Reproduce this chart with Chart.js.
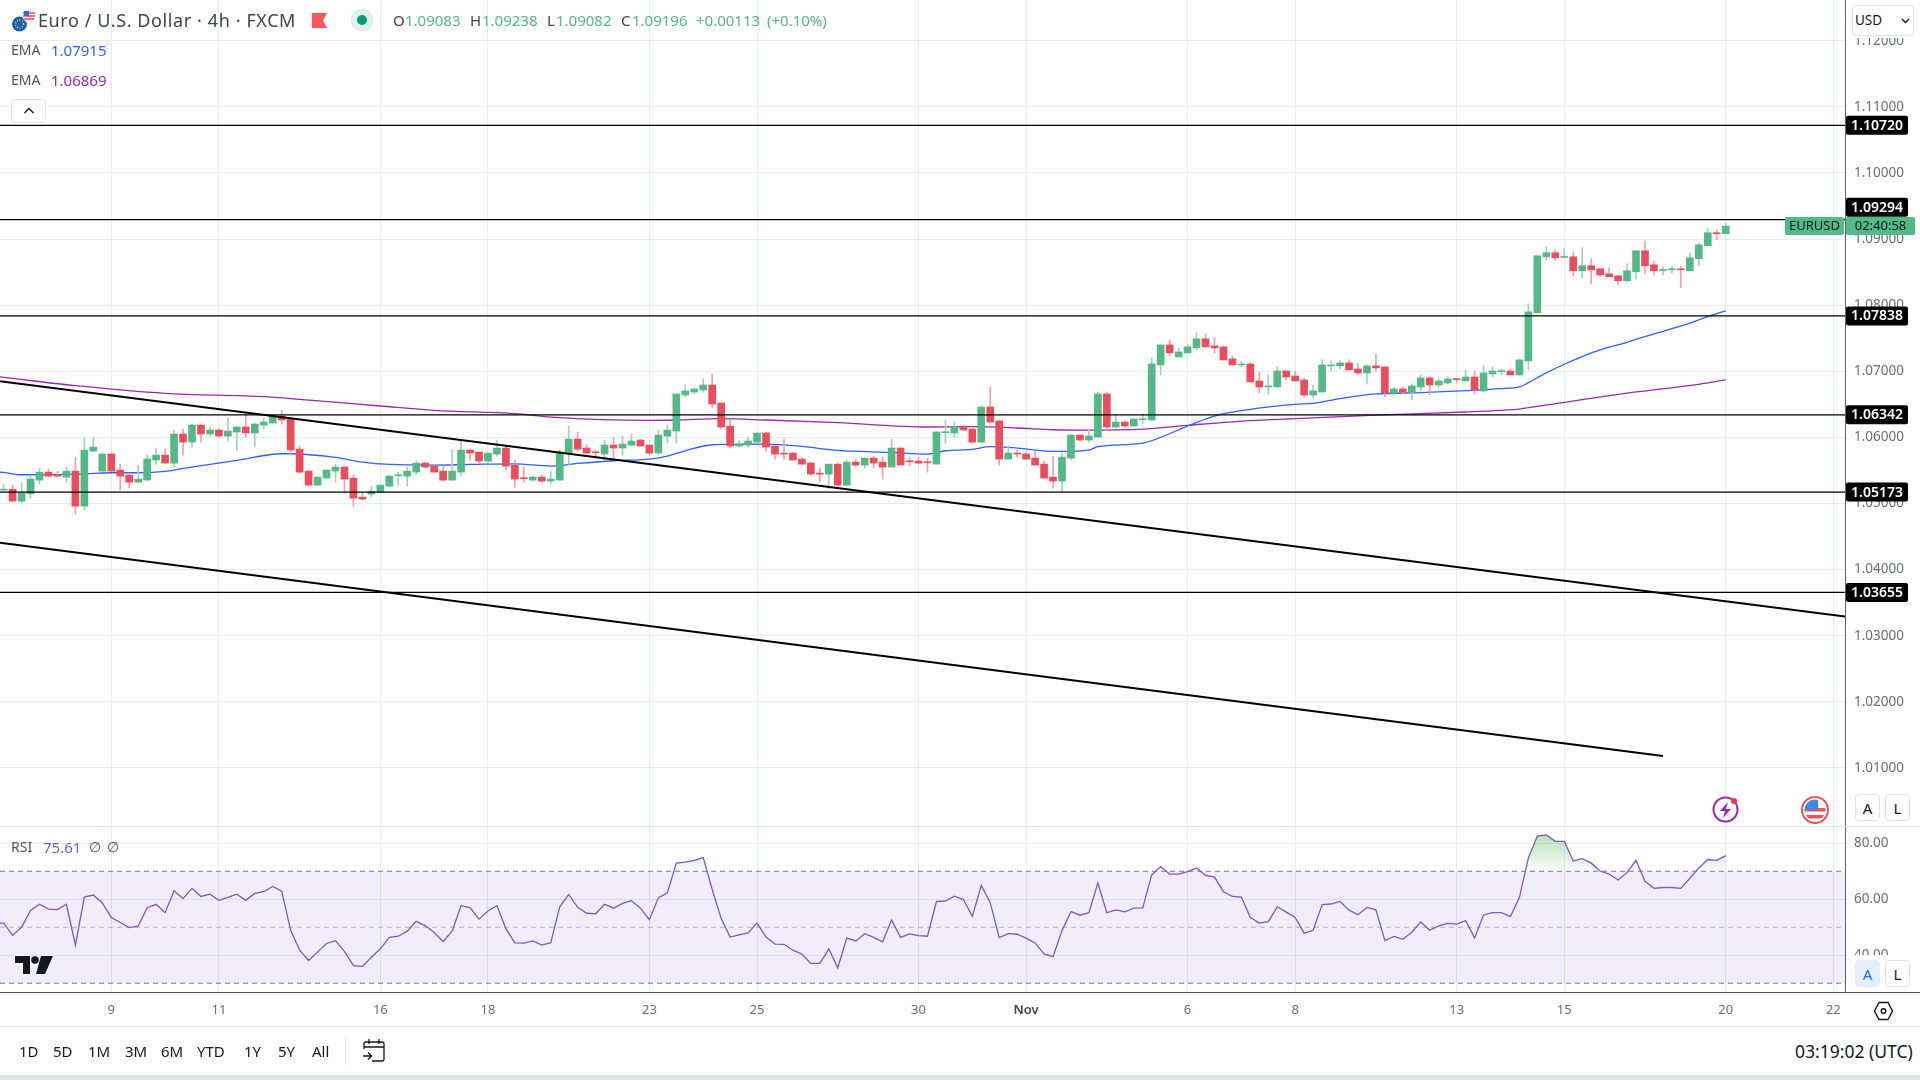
<!DOCTYPE html>
<html>
<head>
<meta charset="utf-8">
<title>EURUSD 4h</title>
<script src="https://cdn.jsdelivr.net/npm/chart.js@4/dist/chart.umd.min.js"></script>
<style>
  html, body { margin: 0; padding: 0; background: #fff; overflow: hidden; }
  body { width: 1920px; height: 1080px; position: relative; font-family: "Noto Sans", sans-serif; color: #131722; }
  canvas { position: absolute; left: 0; }
  #main { top: 0; }
  #rsi { top: 827px; }
  .t { position: absolute; white-space: nowrap; line-height: 20px; }
  .box { position: absolute; box-sizing: border-box; background: #fff; border: 1px solid #e0e3eb; border-radius: 4px; text-align: center; }
  .line { position: absolute; }
  svg { position: absolute; overflow: visible; }
  .gr { color: #53b987; }
  .range span { position: absolute; top: 0; line-height: 20px; font-size: 15px; }
</style>
</head>
<body>
<canvas id="main" width="1920" height="827"></canvas>
<canvas id="rsi" width="1920" height="199"></canvas>

<!-- header legend -->
<svg style="left:11px;top:8px" width="28" height="26" viewBox="0 0 28 26">
  <circle cx="8.5" cy="16" r="7.5" fill="#1c5fb0"/>
  <circle cx="8.5" cy="16" r="4" fill="none" stroke="#f5d33f" stroke-width="1.4" stroke-dasharray="1 1.6"/>
  <circle cx="18" cy="8" r="6.5" fill="#e8eef5"/>
  <path d="M12 5h12M12 8h12M13 11h10" stroke="#eb4d5c" stroke-width="1.3"/>
  <rect x="13" y="3" width="5" height="5" fill="#2f6fc4"/>
</svg>
<div class="t" style="left:38px;top:10px;font-size:18px;letter-spacing:0.6px;color:#42454f">Euro / U.S. Dollar · 4h · FXCM</div>
<svg style="left:312px;top:13px" width="16" height="15"><path d="M0 0H15L11 7.5 15 15H0Z" fill="#f9575c"/></svg>
<svg style="left:350px;top:8px" width="24" height="24"><circle cx="12" cy="12" r="11.5" fill="#e0f1ec"/><circle cx="12" cy="12" r="5" fill="#089981"/></svg>
<div class="t" style="left:393px;top:10px;font-size:15px;color:#42454f">O</div>
<div class="t gr" style="left:405px;top:10px;font-size:15px">1.09083</div>
<div class="t" style="left:470px;top:10px;font-size:15px;color:#42454f">H</div>
<div class="t gr" style="left:482px;top:10px;font-size:15px">1.09238</div>
<div class="t" style="left:547px;top:10px;font-size:15px;color:#42454f">L</div>
<div class="t gr" style="left:556px;top:10px;font-size:15px">1.09082</div>
<div class="t" style="left:621px;top:10px;font-size:15px;color:#42454f">C</div>
<div class="t gr" style="left:632px;top:10px;font-size:15px">1.09196</div>
<div class="t gr" style="left:696px;top:10px;font-size:15px">+0.00113</div>
<div class="t gr" style="left:767px;top:10px;font-size:15px">(+0.10%)</div>
<div class="t" style="left:11px;top:40px;font-size:14px;color:#50535e">EMA</div>
<div class="t" style="left:51px;top:40px;font-size:15px;color:#2962ff">1.07915</div>
<div class="t" style="left:11px;top:70px;font-size:14px;color:#50535e">EMA</div>
<div class="t" style="left:51px;top:70px;font-size:15px;color:#9c27b0">1.06869</div>
<div class="box" style="left:11px;top:99px;width:35px;height:24px"></div>
<svg style="left:23px;top:107px" width="12" height="8"><path d="M1.5 6L6 1.5 10.500 6" fill="none" stroke="#131722" stroke-width="1.4"/></svg>

<!-- price axis extras -->
<div class="line" style="left:1846px;top:0;width:74px;height:38px;background:#fff"></div>
<div class="box" style="left:1852px;top:5px;width:62px;height:31px"></div>
<div class="t" style="left:1855px;top:10px;font-size:13.5px">USD</div>
<svg style="left:1901px;top:18px" width="9" height="6"><path d="M1 1L4.500 4.500 8 1" fill="none" stroke="#131722" stroke-width="1.4"/></svg>
<div class="box" style="left:1855px;top:794px;width:25px;height:27px;line-height:27px;font-size:15px">A</div>
<div class="box" style="left:1885px;top:794px;width:25px;height:27px;line-height:27px;font-size:15px">L</div>

<!-- event icons -->
<svg style="left:1712px;top:796px" width="28" height="28">
  <circle cx="13.500" cy="13.500" r="12" fill="#fff" stroke="#9c27b0" stroke-width="2"/>
  <path d="M16 6L8 15h5l-2 7 8-9h-5z" fill="#9c27b0"/>
  <circle cx="22" cy="5" r="3" fill="#f23645"/>
</svg>
<svg style="left:1801px;top:796px" width="28" height="28">
  <circle cx="14" cy="14" r="13" fill="#fff" stroke="#f0525f" stroke-width="2"/>
  <clipPath id="us"><circle cx="14" cy="14" r="10.500"/></clipPath>
  <g clip-path="url(#us)"><rect x="3" y="3" width="22" height="22" fill="#f5f5f5"/>
    <rect x="3" y="12" width="22" height="3.500" fill="#f0525f"/><rect x="3" y="19" width="22" height="3.500" fill="#f0525f"/>
    <rect x="3" y="3" width="14" height="11" fill="#3f8ae8"/></g>
</svg>

<!-- separators -->
<div class="line" style="left:0;top:826px;width:1920px;height:1px;background:#e0e3eb"></div>
<div class="line" style="left:0;top:1026px;width:1920px;height:1px;background:#e0e3eb"></div>
<div class="line" style="left:0;top:1075px;width:1920px;height:5px;background:#e0e3eb"></div>

<!-- RSI pane legend -->
<div class="t" style="left:11px;top:837px;font-size:14px;color:#50535e">RSI</div>
<div class="t" style="left:43px;top:837px;font-size:15px;color:#7e57c2">75.61</div>
<div class="t" style="left:89px;top:837px;font-size:14px;color:#50535e;font-family:'DejaVu Sans'">∅</div>
<div class="t" style="left:107px;top:837px;font-size:14px;color:#50535e;font-family:'DejaVu Sans'">∅</div>
<svg style="left:15px;top:956px" width="38" height="18" viewBox="0 0 38 18">
  <path d="M0 0H15V18H8V7H0Z M26 0H38L30 18H21Z" fill="#131722" stroke="#fff" stroke-width="1.5" paint-order="stroke"/>
  <circle cx="20" cy="4" r="3.800" fill="#131722"/>
</svg>
<div class="line" style="left:1846px;top:955px;width:74px;height:36px;background:#fff"></div>
<div class="box" style="left:1855px;top:960px;width:25px;height:27px;line-height:27px;font-size:15px;background:#e3effd;border-color:#e3effd;color:#2962ff">A</div>
<div class="box" style="left:1885px;top:960px;width:25px;height:27px;line-height:27px;font-size:15px">L</div>
<svg style="left:1874px;top:1001px" width="20" height="20"><path d="M5 1.500H14L18.500 10 14 18.500H5L0.500 10Z" fill="none" stroke="#131722" stroke-width="1.400"/><circle cx="9.500" cy="10" r="2.300" fill="none" stroke="#131722" stroke-width="1.400"/></svg>

<!-- bottom toolbar -->
<div class="range" style="position:absolute;left:0;top:1041px">
  <span style="left:19px">1D</span><span style="left:53px">5D</span><span style="left:88px">1M</span>
  <span style="left:125px">3M</span><span style="left:161px">6M</span><span style="left:197px">YTD</span>
  <span style="left:244px">1Y</span><span style="left:278px">5Y</span><span style="left:312px">All</span>
</div>
<div class="line" style="left:345px;top:1037px;width:1px;height:28px;background:#e0e3eb"></div>
<svg style="left:362px;top:1039px" width="24" height="23">
  <path d="M2 10V5a2 2 0 0 1 2-2H20a2 2 0 0 1 2 2V20a2 2 0 0 1-2 2H10M2 8H22M7 0V5M17 0V5M1 17H9M6 13.500L9.500 17 6 20.500" fill="none" stroke="#131722" stroke-width="1.300"/>
</svg>
<div class="t" style="left:1795px;top:1041px;font-size:17.5px">03:19:02 (UTC)</div>

<script>
// Candles, one value per 4h bar
const opens = [
  1.05202,1.05217,1.05036,1.05147,1.05354,1.05475,1.05429,1.05399,1.05490,1.04960,
  1.05793,1.05490,1.05748,1.05505,1.05429,1.05323,1.05354,1.05657,1.05732,1.05611,
  1.06051,1.05929,1.06187,1.06051,1.06111,1.06020,1.06081,1.06157,1.06066,1.06187,
  1.06217,1.06323,1.06278,1.05823,1.05490,1.05278,1.05384,1.05490,1.05551,1.05384,
  1.05096,1.05142,1.05172,1.05263,1.05419,1.05414,1.05475,1.05611,1.05566,1.05490,
  1.05354,1.05475,1.05808,1.05778,1.05642,1.05748,1.05839,1.05581,1.05384,1.05354,
  1.05399,1.05339,1.05354,1.05763,1.05975,1.05839,1.05778,1.05748,1.05884,1.05839,
  1.05884,1.05960,1.05884,1.05763,1.06020,1.06096,1.06641,1.06687,1.06717,1.06793,
  1.06520,1.06172,1.05869,1.05884,1.05929,1.06066,1.05869,1.05763,1.05763,1.05672,
  1.05611,1.05460,1.05445,1.05596,1.05278,1.05626,1.05581,1.05687,1.05626,1.05551,
  1.05839,1.05642,1.05642,1.05626,1.05596,1.06071,1.06066,1.06157,1.06126,1.05929,
  1.06460,1.06248,1.05672,1.05763,1.05748,1.05687,1.05596,1.05399,1.05339,1.05687,
  1.06035,1.05960,1.06005,1.06657,1.06157,1.06232,1.06172,1.06268,1.06263,1.07096,
  1.07399,1.07217,1.07278,1.07354,1.07490,1.07384,1.07369,1.07187,1.07096,1.07111,
  1.06854,1.06763,1.06763,1.07005,1.06929,1.06869,1.06641,1.06687,1.07081,1.07081,
  1.07126,1.07035,1.06975,1.07081,1.07066,1.06672,1.06732,1.06687,1.06763,1.06899,
  1.06793,1.06823,1.06884,1.06854,1.06914,1.06702,1.06960,1.06995,1.07005,1.06944,
  1.07157,1.07884,1.08732,1.08793,1.08722,1.08732,1.08520,1.08596,1.08550,1.08475,
  1.08444,1.08369,1.08505,1.08823,1.08611,1.08525,1.08535,1.08550,1.08520,1.08702,
  1.08899,1.09096,1.09083]
const highs = [
  1.05293,1.05278,1.05313,1.05414,1.05536,1.05520,1.05490,1.05551,1.05702,1.06000,
  1.06005,1.05763,1.05763,1.05596,1.05460,1.05581,1.05732,1.05839,1.05823,1.06111,
  1.06126,1.06202,1.06202,1.06157,1.06131,1.06293,1.06162,1.06354,1.06217,1.06293,
  1.06338,1.06414,1.06308,1.05869,1.05505,1.05399,1.05505,1.05596,1.05566,1.05429,
  1.05172,1.05263,1.05278,1.05429,1.05475,1.05551,1.05642,1.05626,1.05581,1.05566,
  1.05808,1.05960,1.05823,1.05778,1.05763,1.05960,1.05884,1.05657,1.05551,1.05414,
  1.05429,1.05490,1.05808,1.06172,1.06081,1.05884,1.05808,1.05960,1.06005,1.06020,
  1.06051,1.05975,1.05884,1.06111,1.06187,1.06657,1.06793,1.06748,1.06884,1.06960,
  1.06520,1.06263,1.05960,1.06005,1.06066,1.06081,1.05869,1.05975,1.05778,1.05702,
  1.05626,1.05536,1.05596,1.05611,1.05657,1.05672,1.05687,1.05717,1.05702,1.05975,
  1.05839,1.05702,1.05702,1.05687,1.06096,1.06263,1.06232,1.06187,1.06142,1.06475,
  1.06763,1.06263,1.05869,1.05823,1.05778,1.05793,1.05642,1.05717,1.05763,1.06035,
  1.06035,1.06111,1.06687,1.06687,1.06338,1.06248,1.06293,1.06354,1.07202,1.07399,
  1.07475,1.07354,1.07399,1.07581,1.07566,1.07505,1.07384,1.07232,1.07141,1.07126,
  1.06990,1.06944,1.07066,1.07005,1.07005,1.06899,1.06793,1.07172,1.07157,1.07157,
  1.07172,1.07111,1.07096,1.07263,1.07066,1.06763,1.06763,1.06808,1.06944,1.06914,
  1.06884,1.06914,1.06884,1.07020,1.07005,1.07081,1.07066,1.07035,1.07035,1.07187,
  1.08020,1.08747,1.08884,1.08838,1.08853,1.08808,1.08869,1.08702,1.08550,1.08566,
  1.08444,1.08626,1.08823,1.08975,1.08672,1.08581,1.08581,1.08596,1.08793,1.08944,
  1.09156,1.09141,1.09238]
const lows = [
  1.05202,1.05025,1.05010,1.05081,1.05293,1.05414,1.05399,1.05323,1.04839,1.04899,
  1.05783,1.05490,1.05490,1.05202,1.05232,1.05323,1.05354,1.05596,1.05611,1.05551,
  1.05732,1.05854,1.05929,1.06020,1.06020,1.05945,1.05808,1.06005,1.05854,1.06126,
  1.06217,1.06202,1.05732,1.05460,1.05263,1.05278,1.05384,1.05323,1.05157,1.04960,
  1.05051,1.05096,1.05172,1.05248,1.05278,1.05263,1.05445,1.05536,1.05475,1.05339,
  1.05354,1.05414,1.05657,1.05611,1.05626,1.05717,1.05505,1.05248,1.05323,1.05339,
  1.05323,1.05293,1.05354,1.05581,1.05793,1.05748,1.05702,1.05657,1.05657,1.05732,
  1.05869,1.05869,1.05732,1.05732,1.05914,1.05914,1.06611,1.06657,1.06687,1.06445,
  1.06126,1.05839,1.05854,1.05854,1.05929,1.05793,1.05672,1.05672,1.05657,1.05581,
  1.05429,1.05323,1.05222,1.05263,1.05278,1.05551,1.05536,1.05536,1.05369,1.05551,
  1.05581,1.05566,1.05596,1.05475,1.05596,1.05914,1.06005,1.06111,1.05914,1.05929,
  1.06217,1.05581,1.05672,1.05702,1.05672,1.05581,1.05384,1.05232,1.05172,1.05657,
  1.05945,1.05929,1.06005,1.06111,1.06142,1.06157,1.06172,1.06202,1.06248,1.06944,
  1.07232,1.07217,1.07278,1.07323,1.07369,1.07278,1.07172,1.07096,1.07066,1.06838,
  1.06672,1.06657,1.06763,1.06869,1.06854,1.06611,1.06596,1.06687,1.07005,1.07035,
  1.07020,1.06944,1.06808,1.07005,1.06611,1.06641,1.06672,1.06566,1.06702,1.06641,
  1.06748,1.06808,1.06823,1.06854,1.06657,1.06687,1.06914,1.06944,1.06944,1.06944,
  1.07020,1.07884,1.08687,1.08672,1.08717,1.08444,1.08414,1.08323,1.08429,1.08429,
  1.08308,1.08353,1.08399,1.08475,1.08459,1.08459,1.08490,1.08263,1.08520,1.08596,
  1.08899,1.08990,1.09082]
const closes = [
  1.05212,1.05036,1.05157,1.05369,1.05475,1.05414,1.05414,1.05490,1.04960,1.05808,
  1.05854,1.05748,1.05490,1.05414,1.05323,1.05369,1.05672,1.05732,1.05611,1.06051,
  1.05929,1.06187,1.06051,1.06111,1.06020,1.06096,1.06157,1.06066,1.06202,1.06232,
  1.06328,1.06263,1.05808,1.05475,1.05278,1.05399,1.05505,1.05551,1.05369,1.05081,
  1.05066,1.05187,1.05278,1.05414,1.05429,1.05490,1.05611,1.05551,1.05475,1.05354,
  1.05490,1.05808,1.05763,1.05642,1.05763,1.05839,1.05566,1.05369,1.05374,1.05399,
  1.05339,1.05369,1.05778,1.05975,1.05823,1.05763,1.05768,1.05884,1.05839,1.05899,
  1.05945,1.05869,1.05763,1.06035,1.06111,1.06657,1.06702,1.06732,1.06793,1.06505,
  1.06157,1.05869,1.05899,1.05945,1.06066,1.05854,1.05748,1.05748,1.05657,1.05596,
  1.05445,1.05445,1.05596,1.05278,1.05626,1.05581,1.05687,1.05611,1.05551,1.05839,
  1.05581,1.05631,1.05611,1.05616,1.06081,1.06081,1.06157,1.06111,1.05929,1.06460,
  1.06232,1.05672,1.05763,1.05748,1.05672,1.05581,1.05384,1.05339,1.05702,1.06035,
  1.05960,1.06020,1.06657,1.06157,1.06232,1.06172,1.06278,1.06278,1.07111,1.07399,
  1.07278,1.07293,1.07369,1.07490,1.07369,1.07354,1.07172,1.07096,1.07111,1.06838,
  1.06763,1.06778,1.07005,1.06914,1.06854,1.06641,1.06702,1.07096,1.07096,1.07126,
  1.07020,1.06975,1.07081,1.07051,1.06672,1.06732,1.06687,1.06778,1.06899,1.06793,
  1.06854,1.06884,1.06874,1.06914,1.06717,1.06975,1.07005,1.07005,1.06944,1.07172,
  1.07899,1.08747,1.08793,1.08717,1.08732,1.08520,1.08596,1.08535,1.08459,1.08429,
  1.08369,1.08520,1.08823,1.08596,1.08520,1.08535,1.08550,1.08535,1.08717,1.08914,
  1.09096,1.09081,1.09196]

// RSI, one value per bar, plus the bar just off the left edge
const rsiLeadIn = 51.5
const rsiValues = [
  51.5,47.1,50.0,56.0,58.2,56.5,56.3,58.2,43.6,60.8,61.5,58.7,53.5,51.7,49.9,50.4,57.0,58.2,55.2,63.0,
  60.2,63.9,61.0,61.8,59.6,60.7,61.8,59.6,62.1,62.7,64.6,62.9,48.9,41.8,38.1,41.1,44.2,45.2,41.4,36.3,
  36.0,39.3,42.3,46.4,46.8,48.6,52.1,50.6,48.1,44.9,48.6,57.7,57.0,52.9,55.8,57.7,49.5,44.4,44.3,45.1,
  43.6,44.5,57.3,61.7,57.1,55.0,54.8,58.2,56.8,58.5,59.5,56.8,52.7,60.5,62.3,72.9,73.3,73.9,74.9,63.5,
  53.1,46.5,47.3,48.0,51.5,46.5,44.0,43.9,41.8,40.4,37.1,37.1,42.3,35.5,46.1,45.1,47.7,46.4,44.8,52.6,
  46.4,47.6,47.0,46.8,59.2,59.3,61.1,59.9,53.9,64.9,58.8,46.3,47.7,47.5,46.1,44.4,40.5,39.5,48.8,55.6,
  54.3,55.2,65.8,55.2,56.2,55.5,56.8,56.9,68.7,71.7,69.0,69.0,69.9,71.2,68.5,67.9,62.7,61.0,60.8,53.5,
  51.5,52.0,57.3,55.4,53.5,47.9,48.9,58.1,58.3,59.2,56.1,54.5,57.1,56.2,45.2,46.7,45.7,48.2,51.9,48.9,
  50.5,51.4,51.1,52.4,46.2,54.4,55.2,55.2,53.8,60.7,74.8,82.6,83.0,80.7,80.7,73.7,74.5,72.9,70.1,69.0,
  66.9,69.5,73.9,66.4,63.9,64.2,64.2,63.9,67.5,71.2,74.2,73.9,75.61]

// EMAs, read at the bars where the curve bends
const emaFastBars = [-1,0,2,7,10,12,15,18,20,26,31,32,37,40,43,48,52,57,61,64,68,72,74,76,79,81,85,89,93,99,103,105,108,110,113,117,118,121,122,127,132,135,139,144,146,149,153,158,163,167,169,170,172,174,176,178,181,183,188,190,192]
const emaFastValues = [1.05475,1.05470,1.05435,1.05440,1.05455,1.05465,1.05465,1.05485,1.05530,1.05652,1.05753,1.05753,1.05697,1.05626,1.05591,1.05581,1.05591,1.05601,1.05566,1.05606,1.05647,1.05672,1.05717,1.05798,1.05889,1.05894,1.05899,1.05864,1.05803,1.05773,1.05748,1.05798,1.05818,1.05859,1.05839,1.05788,1.05788,1.05808,1.05859,1.05914,1.06172,1.06323,1.06424,1.06500,1.06515,1.06586,1.06657,1.06677,1.06707,1.06737,1.06763,1.06828,1.06975,1.07106,1.07222,1.07323,1.07439,1.07525,1.07727,1.07828,1.07915]
const emaSlowBars = [-1,0,8,18,29,33,42,48,57,61,72,75,80,85,93,103,108,113,117,121,127,132,139,144,153,163,167,169,170,174,180,189,192]
const emaSlowValues = [1.06925,1.06909,1.06783,1.06667,1.06616,1.06576,1.06475,1.06409,1.06359,1.06308,1.06258,1.06263,1.06283,1.06263,1.06222,1.06157,1.06162,1.06142,1.06116,1.06111,1.06126,1.06182,1.06253,1.06283,1.06338,1.06384,1.06409,1.06429,1.06450,1.06530,1.06652,1.06803,1.06869]

// Horizontal levels and the two drawn trend lines
const levels = [1.10720, 1.09294, 1.07838, 1.06342, 1.05173, 1.03655]
const trendUpperPrices = [1.0685, 1.03292]
const trendLowerPrices = [1.04405, 1.01181]
const trendLowerEndBar = 185

const lastPrice = 1.09196
const rsiLevels = [70, 50, 30]

// Date axis: bar number of each day label
const dayBars = [12, 24, 42, 54, 72, 84, 102, 114, 132, 144, 162, 174, 192, 204]
const dayLabels = ["9", "11", "16", "18", "23", "25", "30", "Nov", "6", "8", "13", "15", "20", "22"]

const FONT = '"Noto Sans", sans-serif'
const GRID = "#e3edf3"
const AXIS_TEXT = "#6a6d78"
const AXIS_LINE = "#5d606b"
const UP = "#53b987"
const DOWN = "#eb4d5c"
const UP_WICK = "#a4cdc6"
const DOWN_WICK = "#f59eaa"
const BAR_MIN = -0.407
const BAR_MAX = 205.3

const barNums = opens.map((_, i) => i)
const isUp = barNums.map((i) => closes[i] >= opens[i])

// Chart.js reserves room for half a tick label at the ends, the panes here run edge to edge
function noEndPadding(scale) {
  scale.paddingTop = 0
  scale.paddingBottom = 0
  scale.paddingLeft = 0
  scale.paddingRight = 0
}

function xGrid(labels) {
  return {
    type: "linear",
    offset: false,
    min: BAR_MIN,
    max: BAR_MAX,
    afterBuildTicks: (scale) => {
      scale.ticks = dayBars.map((v) => ({ value: v }))
    },
    grid: { color: GRID, lineWidth: 1, drawTicks: false, offset: false },
    border: { display: false },
    afterFit: (scale) => {
      noEndPadding(scale)
      scale.height = labels ? 34 : 0
    },
    ticks: labels
      ? {
          autoSkip: false,
          maxRotation: 0,
          padding: 10,
          color: (c) => (dayLabels[c.index] === "Nov" ? "#42454f" : AXIS_TEXT),
          font: (c) => ({ family: FONT, size: 13, weight: dayLabels[c.index] === "Nov" ? "600" : "400" }),
          callback: (v) => dayLabels[dayBars.indexOf(v)],
        }
      : { display: false },
  }
}

// Level tags and the EURUSD countdown on the price axis
const priceTags = {
  id: "priceTags",
  afterDraw(chart) {
    const { ctx, scales } = chart
    const y = scales.y
    ctx.save()
    ctx.textBaseline = "middle"
    levels.forEach((lv) => {
      let py = y.getPixelForValue(lv)
      if (lv === 1.09294) py -= 12.5
      ctx.fillStyle = "#000"
      ctx.beginPath()
      ctx.roundRect(1846, py - 9.5, 62, 19, 2)
      ctx.fill()
      ctx.fillStyle = "#fff"
      ctx.font = `600 14px ${FONT}`
      ctx.textAlign = "center"
      ctx.fillText(lv.toFixed(5), 1877, py + 0.5)
    })
    const py = y.getPixelForValue(lastPrice)
    ctx.fillStyle = UP
    ctx.beginPath()
    ctx.roundRect(1785, py - 9, 59, 18, 2)
    ctx.fill()
    ctx.beginPath()
    ctx.roundRect(1846, py - 9, 69, 18, 2)
    ctx.fill()
    ctx.fillStyle = "#131722"
    ctx.font = `13px ${FONT}`
    ctx.textAlign = "center"
    ctx.fillText("EURUSD", 1814.5, py + 0.5)
    ctx.fillText("02:40:58", 1880.5, py + 0.5)
    ctx.restore()
  },
}

new Chart(document.getElementById("main"), {
  data: {
    datasets: [
      ...levels.map((lv) => ({
        type: "line",
        data: [
          { x: BAR_MIN, y: lv },
          { x: BAR_MAX, y: lv },
        ],
        borderColor: "#000",
        borderWidth: 1.2,
        pointRadius: 0,
        order: 0,
      })),
      {
        type: "line",
        data: [
          { x: BAR_MIN, y: trendUpperPrices[0] },
          { x: BAR_MAX, y: trendUpperPrices[1] },
        ],
        borderColor: "#000",
        borderWidth: 2,
        pointRadius: 0,
        order: 0,
      },
      {
        type: "line",
        data: [
          { x: BAR_MIN, y: trendLowerPrices[0] },
          { x: trendLowerEndBar, y: trendLowerPrices[1] },
        ],
        borderColor: "#000",
        borderWidth: 2,
        pointRadius: 0,
        order: 0,
      },
      {
        type: "bar",
        data: barNums.map((i) => ({ x: i, y: [opens[i], closes[i]] })),
        backgroundColor: isUp.map((u) => (u ? UP : DOWN)),
        barThickness: 7,
        minBarLength: 1,
        grouped: false,
        order: 1,
      },
      {
        type: "bar",
        data: barNums.map((i) => ({ x: i, y: [lows[i], highs[i]] })),
        backgroundColor: isUp.map((u) => (u ? UP_WICK : DOWN_WICK)),
        barThickness: 1,
        grouped: false,
        order: 2,
      },
      {
        type: "line",
        data: emaFastBars.map((b, k) => ({ x: b, y: emaFastValues[k] })),
        borderColor: "#2962ff",
        borderWidth: 1.3,
        pointRadius: 0,
        cubicInterpolationMode: "monotone",
        order: 3,
      },
      {
        type: "line",
        data: emaSlowBars.map((b, k) => ({ x: b, y: emaSlowValues[k] })),
        borderColor: "#9c27b0",
        borderWidth: 1.3,
        pointRadius: 0,
        cubicInterpolationMode: "monotone",
        order: 4,
      },
    ],
  },
  options: {
    responsive: false,
    animation: false,
    devicePixelRatio: 1,
    layout: { padding: 0 },
    plugins: { legend: { display: false }, tooltip: { enabled: false } },
    scales: {
      x: xGrid(false),
      y: {
        type: "linear",
        position: "right",
        min: 1.00107,
        max: 1.12616,
        afterFit: (scale) => {
          noEndPadding(scale)
          scale.width = 75
        },
        grid: { color: GRID, drawTicks: false },
        border: { display: true, color: AXIS_LINE },
        ticks: {
          stepSize: 0.01,
          includeBounds: false,
          autoSkip: false,
          padding: 9,
          color: AXIS_TEXT,
          font: { family: FONT, size: 13.5 },
          callback: (v) => v.toFixed(5),
        },
      },
    },
  },
  plugins: [priceTags],
})

const rsiCanvas = document.getElementById("rsi")
const overbought = rsiCanvas.getContext("2d").createLinearGradient(0, 8, 0, 45)
overbought.addColorStop(0, "rgba(76,175,80,0.38)")
overbought.addColorStop(1, "rgba(76,175,80,0.02)")

new Chart(rsiCanvas, {
  data: {
    datasets: [
      {
        type: "line",
        data: [{ x: -1, y: rsiLeadIn }, ...barNums.map((i) => ({ x: i, y: rsiValues[i] }))],
        borderColor: "#7e57c2",
        borderWidth: 1.3,
        pointRadius: 0,
        fill: { target: { value: 70 }, above: overbought, below: "rgba(0,0,0,0)" },
        order: 0,
      },
      ...rsiLevels.map((lv, k) => ({
        type: "line",
        data: [
          { x: BAR_MIN, y: lv },
          { x: BAR_MAX, y: lv },
        ],
        borderColor: k === 1 ? "rgba(120,123,134,0.55)" : "#787b86",
        borderWidth: 1,
        borderDash: [5, 4],
        pointRadius: 0,
        fill: k === 0 ? { target: { value: rsiLevels[2] } } : false,
        backgroundColor: "rgba(126,87,194,0.1)",
        order: 1,
      })),
    ],
  },
  options: {
    responsive: false,
    animation: false,
    devicePixelRatio: 1,
    layout: { padding: 0 },
    plugins: { legend: { display: false }, tooltip: { enabled: false } },
    scales: {
      x: xGrid(true),
      y: {
        type: "linear",
        position: "right",
        min: 26.86,
        max: 85.82,
        afterFit: (scale) => {
          noEndPadding(scale)
          scale.width = 75
        },
        grid: { color: GRID, drawTicks: false },
        border: { display: true, color: AXIS_LINE },
        ticks: {
          stepSize: 20,
          includeBounds: false,
          autoSkip: false,
          padding: 9,
          color: AXIS_TEXT,
          font: { family: FONT, size: 13.5 },
          callback: (v) => v.toFixed(2),
        },
        afterBuildTicks: (scale) => {
          scale.ticks = [{ value: 80 }, { value: 60 }, { value: 40 }]
        },
      },
    },
  },
  plugins: [
    {
      id: "paneBottom",
      afterDraw(chart) {
        const { ctx, chartArea } = chart
        ctx.fillStyle = "#50535e"
        ctx.fillRect(0, chartArea.bottom, 1920, 1)
      },
    },
  ],
})
</script>
</body>
</html>
